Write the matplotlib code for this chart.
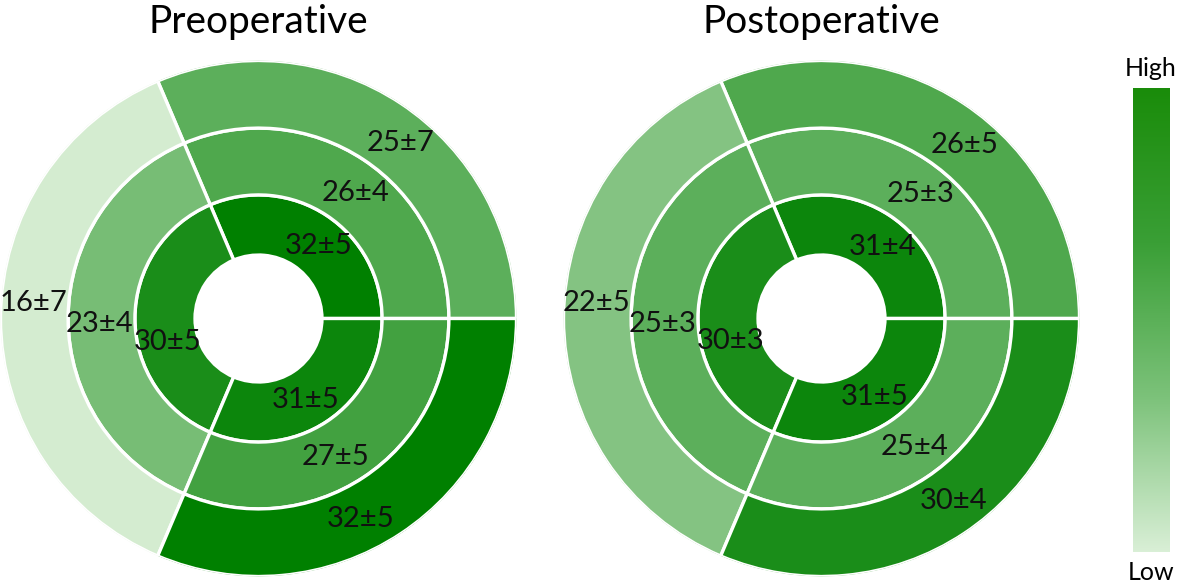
import numpy as np
import matplotlib
matplotlib.use('Agg')
import matplotlib.pyplot as plt
from matplotlib.colors import LinearSegmentedColormap, Normalize

plt.rcParams['font.family'] = ['Lato', 'DejaVu Sans']

# sectors per ring: [top, left, bottom]
titles = ['Preoperative', 'Postoperative']
pre_inner = [32, 30, 31]
pre_middle = [26, 23, 27]
pre_outer = [25, 16, 32]
pre_inner_sd = [5, 5, 5]
pre_middle_sd = [4, 4, 5]
pre_outer_sd = [7, 7, 5]
post_inner = [31, 30, 31]
post_middle = [25, 25, 25]
post_outer = [26, 22, 30]
post_inner_sd = [4, 3, 5]
post_middle_sd = [3, 3, 4]
post_outer_sd = [5, 5, 4]
bar_labels = ['High', 'Low']

# layout
sector_start = [0, 113, 247]
sector_width = [113, 134, 113]
ring_edges = [0.246, 0.479, 0.738, 1.0]
label_r = [0.365, 0.615, 0.873]
label_theta = {
    'Preoperative': [[50, 52.5, 51], [194.5, 182, 176], [300, 299, 297]],
    'Postoperative': [[49.5, 51.5, 50.5], [194, 182, 176], [304, 306, 306]],
}

cmap = LinearSegmentedColormap.from_list('grn', ['#d4ecd0', '#008000'])
norm = Normalize(vmin=16, vmax=32)
bar_cmap = LinearSegmentedColormap.from_list('grn_bar', ['#d9efd6', '#7cc27a', '#3a9f36', '#1a8c0a'])

W, H = 1181, 587
fig = plt.figure(figsize=(W / 100, H / 100), dpi=100)


def draw_bullseye(rect, title, rings, sds):
    ax = fig.add_axes(rect, projection='polar')
    for i, (vals, sd) in enumerate(zip(rings, sds)):
        theta = np.deg2rad(np.array(sector_start) + np.array(sector_width) / 2)
        ax.bar(theta, ring_edges[i + 1] - ring_edges[i], width=np.deg2rad(sector_width),
               bottom=ring_edges[i], color=cmap(norm(np.array(vals))),
               edgecolor='white', linewidth=2.4, align='center')
        for j in range(3):
            ax.text(np.deg2rad(label_theta[title][j][i]), label_r[i], f'{vals[j]}±{sd[j]}',
                    ha='center', va='center', fontsize=21, color='#111111')
    ax.set_ylim(0, 1)
    ax.axis('off')


cx = [258.5, 821.5]
cy = 318.5
R = 258
draw_bullseye([(cx[0] - R) / W, (H - cy - R) / H, 2 * R / W, 2 * R / H], titles[0],
              [pre_inner, pre_middle, pre_outer], [pre_inner_sd, pre_middle_sd, pre_outer_sd])
draw_bullseye([(cx[1] - R) / W, (H - cy - R) / H, 2 * R / W, 2 * R / H], titles[1],
              [post_inner, post_middle, post_outer], [post_inner_sd, post_middle_sd, post_outer_sd])

for x, t in zip(cx, titles):
    fig.text(x / W, 1 - 22 / H, t, ha='center', va='center', fontsize=28)

# colour bar
cax = fig.add_axes([1133 / W, (H - 552) / H, 37 / W, 464 / H])
grad = np.linspace(0, 1, 256).reshape(-1, 1)
cax.imshow(grad, aspect='auto', cmap=bar_cmap, origin='lower', extent=[0, 1, 0, 1])
cax.axis('off')
fig.text(1151 / W, 1 - 69 / H, bar_labels[0], ha='center', va='center', fontsize=18)
fig.text(1151 / W, 1 - 573 / H, bar_labels[1], ha='center', va='center', fontsize=18)

fig.savefig('out.png', dpi=100, facecolor='white')
